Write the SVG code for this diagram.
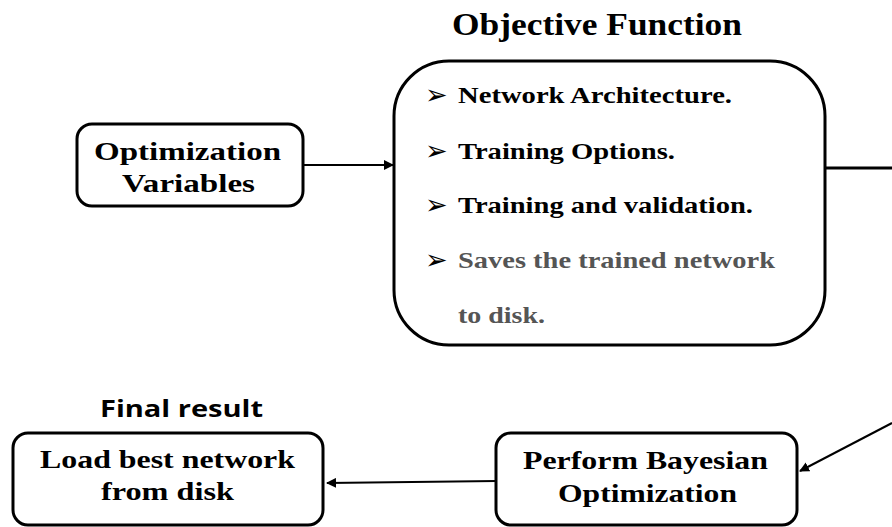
<svg xmlns="http://www.w3.org/2000/svg" width="892" height="527" viewBox="0 0 892 527">
<style>
.box{fill:#fff;stroke:#000;stroke-width:3}
.t{font-family:"Liberation Serif","Times New Roman",serif;font-weight:bold;fill:#000}
.n{font-size:26px}
.b{font-size:24px}
.g{fill:#555}
.bul{font-family:"DejaVu Sans",sans-serif;font-size:27px;fill:#000}
.h{font-family:"Open Sans","Liberation Sans",sans-serif;font-weight:bold;font-size:24px;fill:#000}
.c{fill:none;stroke:#000;stroke-width:2}
</style>
<defs>
<marker id="ah" viewBox="0 0 10 10" refX="9" refY="5" markerWidth="5" markerHeight="5" orient="auto" markerUnits="strokeWidth">
<path d="M0,0 L10,5 L0,10 z" fill="#000"/>
</marker>
</defs>
<g id="connectors">
<line class="c" x1="304" y1="165" x2="393" y2="165" marker-end="url(#ah)"/>
<line x1="825" y1="168" x2="892" y2="168" stroke="#000" stroke-width="3"/>
<line class="c" x1="892" y1="423" x2="800" y2="471" marker-end="url(#ah)"/>
<line class="c" x1="497" y1="481" x2="327" y2="483" marker-end="url(#ah)"/>
</g>
<g id="objective-title">
<text class="t" x="452" y="35" font-size="31" textLength="290" lengthAdjust="spacingAndGlyphs">Objective Function</text>
</g>
<g id="optimization-variables">
<rect class="box" x="77" y="124" width="226" height="82" rx="15"/>
<text class="t n" x="94" y="160" textLength="187" lengthAdjust="spacingAndGlyphs">Optimization</text>
<text class="t n" x="122" y="192" textLength="133" lengthAdjust="spacingAndGlyphs">Variables</text>
</g>
<g id="objective-function">
<rect class="box" x="394" y="61" width="431" height="284" rx="55"/>
<text class="bul" x="425" y="104">➢</text>
<text class="t b" x="458" y="103" textLength="274" lengthAdjust="spacingAndGlyphs">Network Architecture.</text>
<text class="bul" x="425" y="160">➢</text>
<text class="t b" x="458" y="159" textLength="217" lengthAdjust="spacingAndGlyphs">Training Options.</text>
<text class="bul" x="425" y="214">➢</text>
<text class="t b" x="458" y="213" textLength="295" lengthAdjust="spacingAndGlyphs">Training and validation.</text>
<text class="bul" x="425" y="269">➢</text>
<text class="t b g" x="458" y="268" textLength="317" lengthAdjust="spacingAndGlyphs">Saves the trained network</text>
<text class="t b g" x="458" y="323" textLength="87" lengthAdjust="spacingAndGlyphs">to disk.</text>
</g>
<g id="final-result-title">
<text class="h" x="100" y="417" textLength="163" lengthAdjust="spacingAndGlyphs">Final result</text>
</g>
<g id="load-best-network">
<rect class="box" x="13" y="433" width="310" height="92" rx="15"/>
<text class="t n" x="40" y="468" textLength="255" lengthAdjust="spacingAndGlyphs">Load best network</text>
<text class="t n" x="101" y="500" textLength="133" lengthAdjust="spacingAndGlyphs">from disk</text>
</g>
<g id="perform-bayesian">
<rect class="box" x="496" y="433" width="301" height="92" rx="15"/>
<text class="t n" x="523" y="469" textLength="245" lengthAdjust="spacingAndGlyphs">Perform Bayesian</text>
<text class="t n" x="558" y="502" textLength="179" lengthAdjust="spacingAndGlyphs">Optimization</text>
</g>
</svg>
